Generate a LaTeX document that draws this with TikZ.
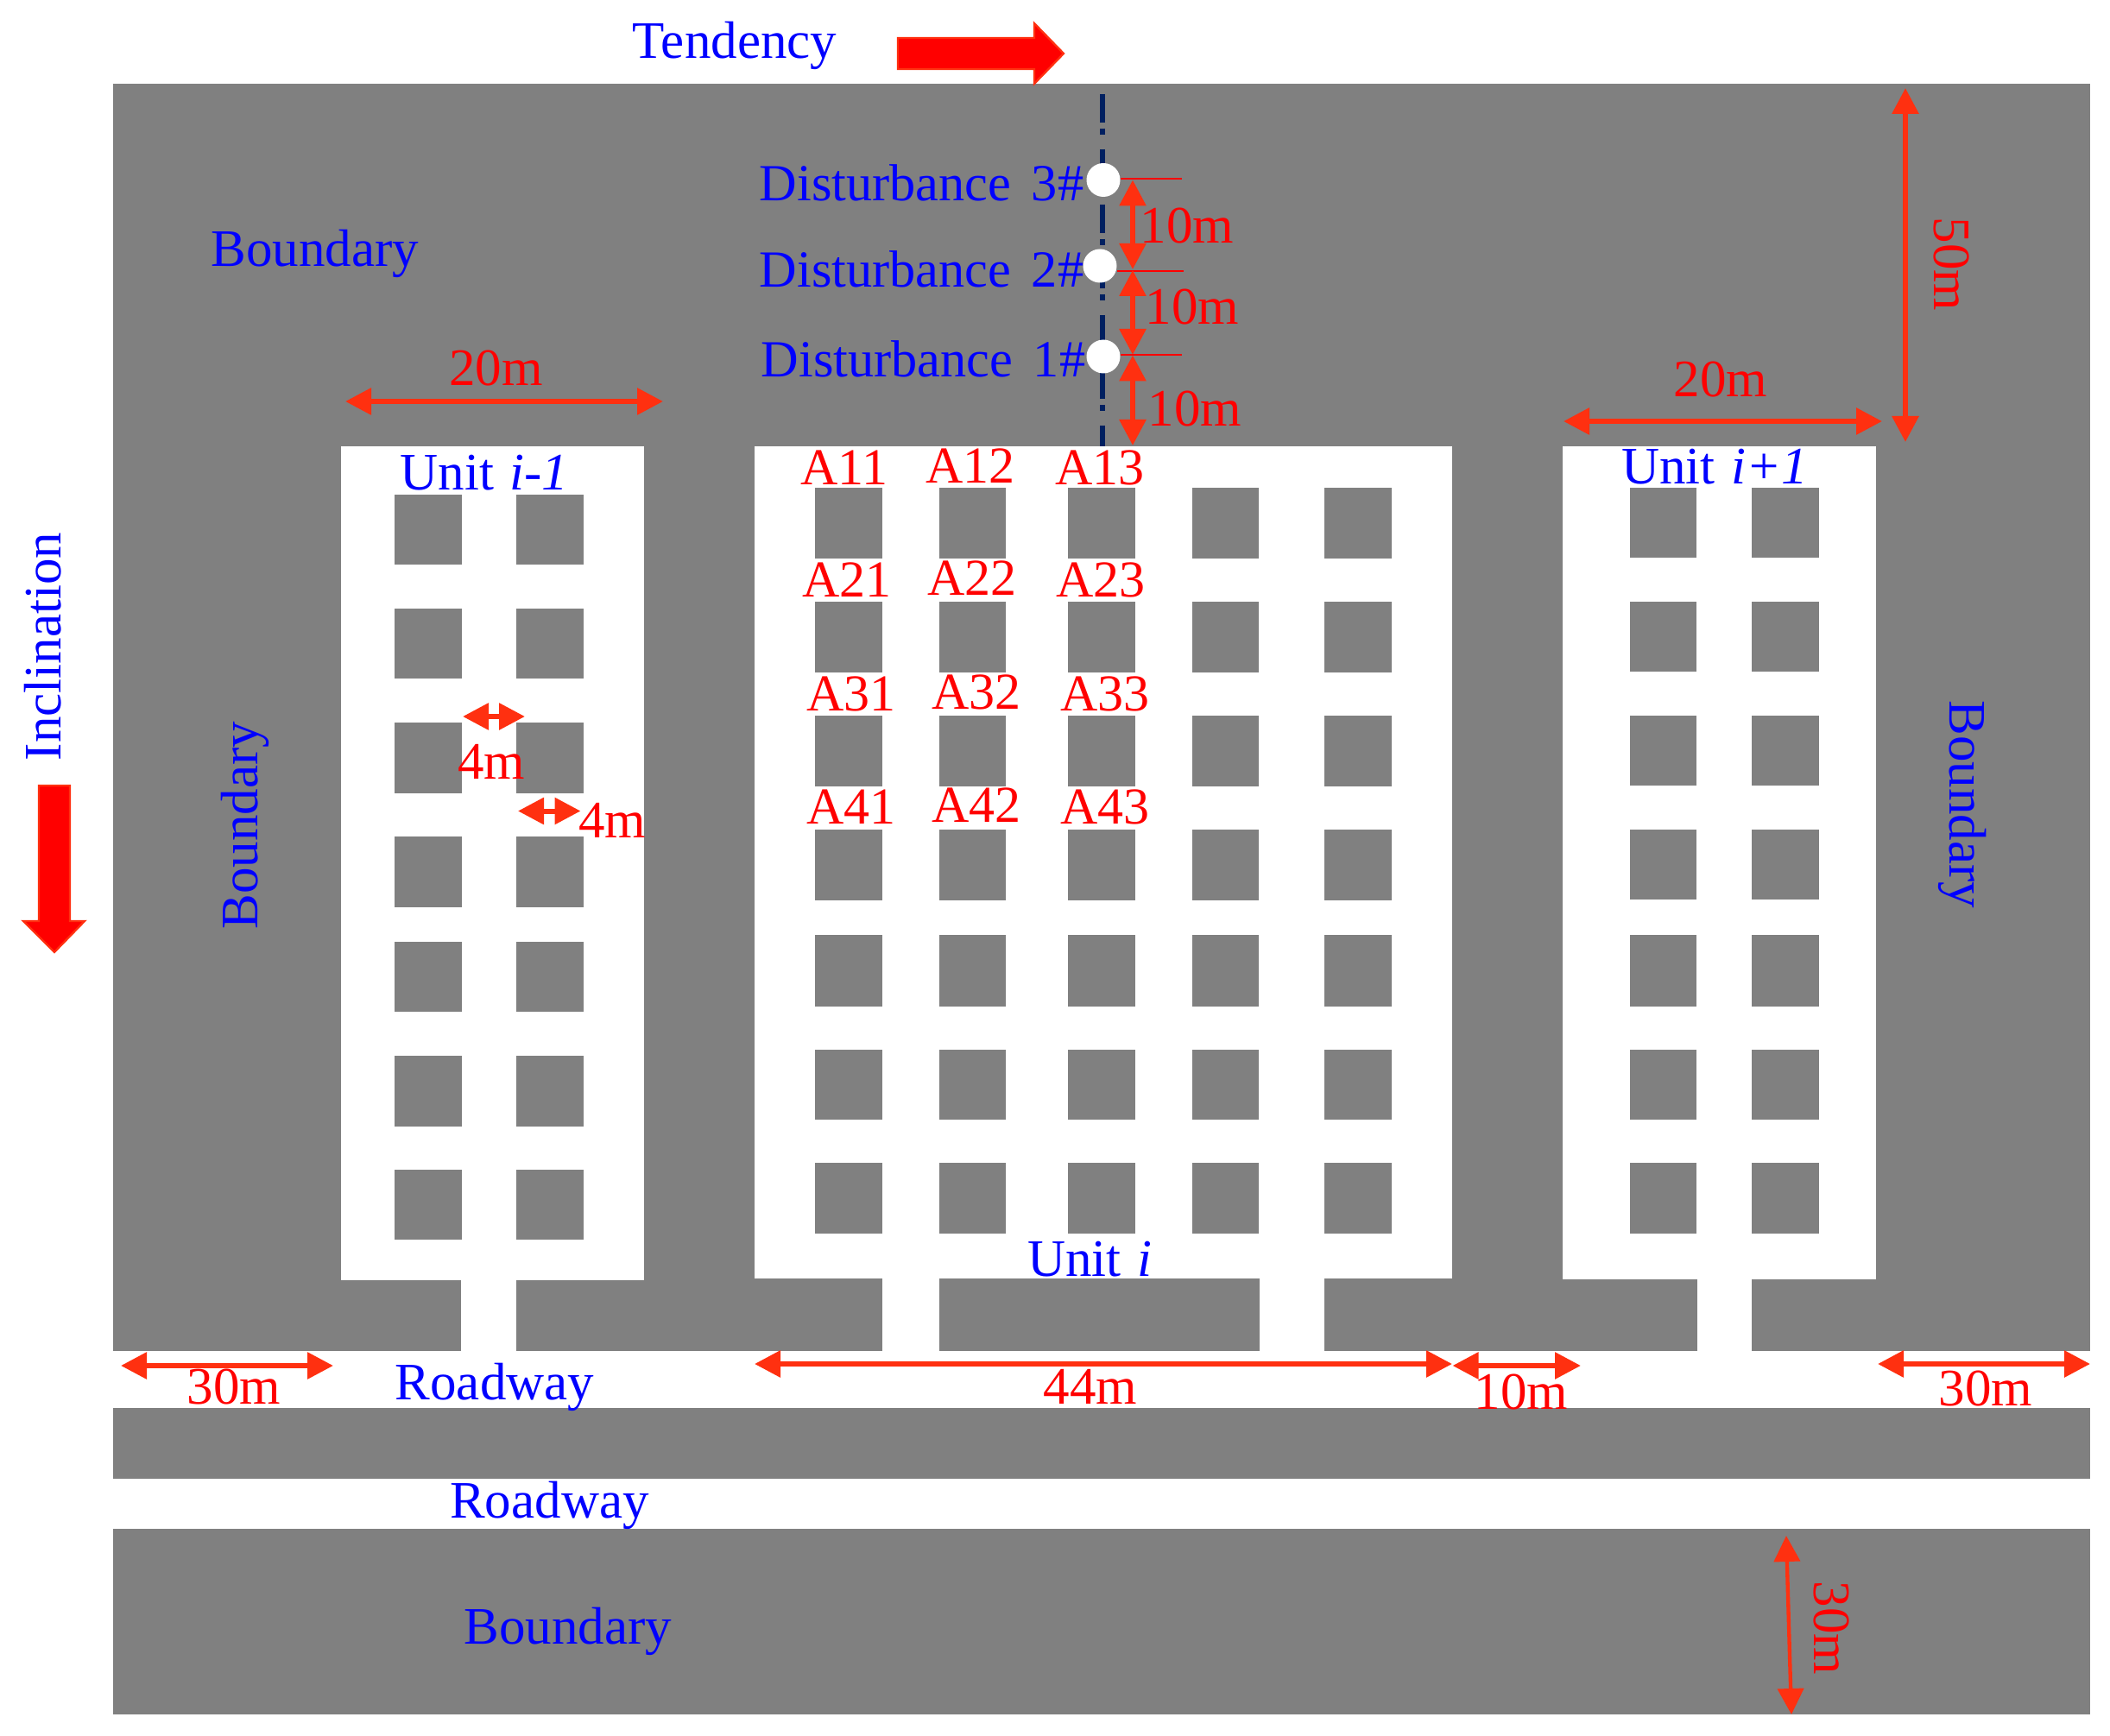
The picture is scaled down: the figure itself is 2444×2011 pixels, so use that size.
\documentclass[tikz,border=0pt]{standalone}
\usepackage{fontspec}
\setmainfont{Liberation Serif}
\usetikzlibrary{arrows.meta}
\definecolor{rockgray}{HTML}{808080}
\definecolor{arrowred}{HTML}{FF3010}
\definecolor{navyline}{HTML}{002060}
\tikzset{
  rock/.style={fill=rockgray,draw=none},
  opening/.style={fill=white,draw=none},
  bluetext/.style={text=blue,inner sep=0pt,anchor=base,font=\fontsize{18.3}{20}\selectfont},
  disttext/.style={text=blue,inner sep=0pt,anchor=base west,font=\fontsize{18.1}{20}\selectfont},
  redtext/.style={text=red,inner sep=0pt,anchor=base,font=\fontsize{18.3}{20}\selectfont},
  pillartext/.style={text=red,inner sep=0pt,anchor=base,font=\fontsize{18}{20}\selectfont},
  dimarrow/.style={draw=arrowred,line width=1.8pt,{Triangle[length=9pt,width=9pt]}-{Triangle[length=9pt,width=9pt]}},
  thindim/.style={draw=arrowred,line width=1.3pt,{Triangle[length=9pt,width=9pt]}-{Triangle[length=9pt,width=9pt]}},
  blockarrow/.style={fill=red,draw=arrowred,line width=0.7pt,line join=miter},
  hole/.style={fill=white,draw=none,circle,minimum size=11.7pt,inner sep=0pt},
  tickline/.style={draw=red,line width=0.55pt},
}
\newcommand{\dimarr}[4][dimarrow]{%
  \coordinate (#2-a) at (#3);\coordinate (#2-b) at (#4);\draw[#1] (#2-a) -- (#2-b);}
\begin{document}
\begin{tikzpicture}[x=0.3pt,y=-0.3pt]
\useasboundingbox (0,0) rectangle (2444,2011);
% rock
\fill[rock] (131,97) rectangle (2421,1565);
\fill[rock] (131,1631) rectangle (2421,1713);
\fill[rock] (131,1771) rectangle (2421,1986);
% units
\fill[opening] (395,517) rectangle (746,1483);
\fill[opening] (874,517) rectangle (1682,1481);
\fill[opening] (1810,517) rectangle (2173,1482);
% stubs
\fill[opening] (534,1480) rectangle (598,1566);
\fill[opening] (1022,1480) rectangle (1088,1566);
\fill[opening] (1459,1480) rectangle (1534,1566);
\fill[opening] (1966,1480) rectangle (2029,1566);
% pillars, unit i-1
\foreach \t/\b in {573/654,705/786,837/919,969/1051,1091/1172,1223/1305,1355/1436}{
  \foreach \l/\r in {457/535,598/676}{\fill[rock] (\l,\t) rectangle (\r,\b);}}
% pillars, unit i
\foreach \t/\b in {565/647,697/779,829/911,961/1043,1083/1166,1216/1297,1347/1429}{
  \foreach \l/\r in {944/1022,1088/1165,1237/1315,1381/1458,1534/1612}{\fill[rock] (\l,\t) rectangle (\r,\b);}}
% pillars, unit i+1
\foreach \t/\b in {565/646,697/778,829/910,961/1042,1083/1166,1216/1297,1347/1429}{
  \foreach \l/\r in {1888/1965,2029/2107}{\fill[rock] (\l,\t) rectangle (\r,\b);}}
% axis
\coordinate (axistop) at (1277,109);\coordinate (axisbot) at (1277,517);
\draw[navyline,line width=1.8pt,dash pattern=on 9.9pt off 2.1pt on 2pt off 5.2pt] (axistop) -- (axisbot);
% disturbance points
\node[hole] (d3) at (1278,208.5) {};
\node[hole] (d2) at (1274,308) {};
\node[hole] (d1) at (1278,413) {};
\coordinate (t3) at (1369,206.7);\coordinate (t2) at (1371,313.8);\coordinate (t1) at (1369,410.6);
\draw[tickline] (d3.east |- t3) -- (t3);
\draw[tickline] (d2.east |- t2) -- (t2);
\draw[tickline] (d1.east |- t1) -- (t1);
% block arrows
\draw[blockarrow] (1040,44) -- (1198,44) -- (1198,27) -- (1232,62) -- (1198,97) -- (1198,80) -- (1040,80) -- cycle;
\draw[blockarrow] (45,910) -- (81,910) -- (81,1067) -- (98,1067) -- (63,1103) -- (27,1067) -- (45,1067) -- cycle;
% dimension arrows
\dimarr{dA}{1312,208.5}{1312,312}
\dimarr{dB}{1312,313}{1312,411}
\dimarr{dC}{1312,411.5}{1312,516}
\dimarr{wA}{400,465}{768,465}
\dimarr{wB}{1811,488}{2180,488}
\dimarr{hA}{2207,102}{2207,512}
\dimarr{fA}{536,830}{608,830}
\dimarr{fB}{600,939.5}{672.5,939.5}
\dimarr{bA}{140,1582}{386,1582}
\dimarr{bB}{874,1580}{1682,1580}
\dimarr{bC}{1682.5,1582}{1831,1582}
\dimarr{bD}{2175,1580}{2421,1580}
\dimarr[thindim]{vA}{2069,1779}{2075,1986}
% blue labels
\node[bluetext] (tend) at (851,68) {Tendency};
\node[bluetext] (bd1) at (365,309) {Boundary};
\node[disttext] (dist3) at (879,233) {Disturbance\hspace{7.1pt}3\#};
\node[disttext] (dist2) at (879,333) {Disturbance\hspace{7.1pt}2\#};
\node[disttext] (dist1) at (881,437) {Disturbance\hspace{7.1pt}1\#};
\node[bluetext,rotate=90] (incl) at (70,749) {Inclination};
\node[bluetext,rotate=90] (bd2) at (298,956) {Boundary};
\node[bluetext,rotate=-90] (bd3) at (2258,932) {Boundary};
\node[bluetext] (ua) at (561,568) {Unit\hspace{1pt} \textit{i-1}};
\node[bluetext] (ub) at (1262,1478) {Unit\hspace{1pt} \textit{i}};
\node[bluetext] (uc) at (1986,561) {Unit\hspace{1pt} \textit{i+1}};
\node[bluetext] (rd1) at (573,1621) {Roadway};
\node[bluetext] (rd2) at (636.5,1758) {Roadway};
\node[bluetext] (bd4) at (657.7,1904) {Boundary};
% red labels
\node[pillartext] (a11) at (978,561.5) {A11};
\node[pillartext] (a12) at (1124,559.5) {A12};
\node[pillartext] (a13) at (1274,561.5) {A13};
\node[pillartext] (a21) at (981,692) {A21};
\node[pillartext] (a22) at (1126,690) {A22};
\node[pillartext] (a23) at (1275,692) {A23};
\node[pillartext] (a31) at (986,823) {A31};
\node[pillartext] (a32) at (1131,821) {A32};
\node[pillartext] (a33) at (1280,823) {A33};
\node[pillartext] (a41) at (986,954) {A41};
\node[pillartext] (a42) at (1131,952) {A42};
\node[pillartext] (a43) at (1280,954) {A43};
\node[redtext] (m1) at (1375,282) {10m};
\node[redtext] (m2) at (1381,376) {10m};
\node[redtext] (m3) at (1384,494) {10m};
\node[redtext] (m4) at (574.5,447) {20m};
\node[redtext] (m5) at (1993,460) {20m};
\node[redtext,rotate=-90] (m6) at (2240,306) {50m};
\node[redtext] (m7) at (569,902) {4m};
\node[redtext] (m8) at (709,970) {4m};
\node[redtext] (m9) at (271,1626) {30m};
\node[redtext] (m10) at (1263,1626) {44m};
\node[redtext] (m11) at (1762,1632) {10m};
\node[redtext] (m12) at (2300,1628) {30m};
\node[redtext,rotate=-90] (m13) at (2101,1886) {30m};
\end{tikzpicture}
\end{document}
